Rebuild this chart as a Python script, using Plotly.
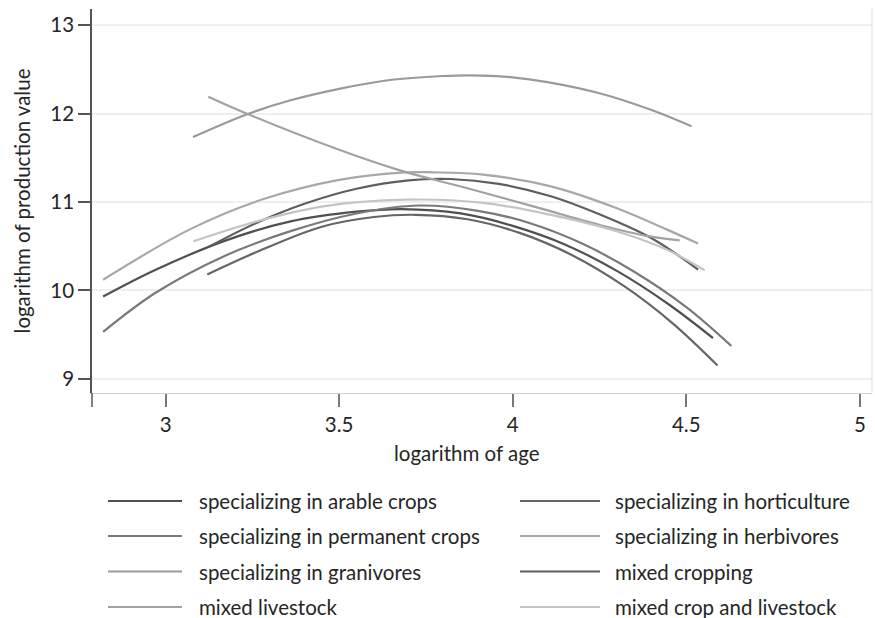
import plotly.graph_objects as go

# Fitted production-value curves by farm type (x: log of age, y: log of production value)
series_names = [
    "specializing in arable crops",
    "specializing in horticulture",
    "specializing in permanent crops",
    "specializing in herbivores",
    "specializing in granivores",
    "mixed cropping",
    "mixed livestock",
    "mixed crop and livestock",
]
series_colors = ["#505050", "#666666", "#7a7a7a", "#a8a8a8",
                 "#9a9a9a", "#5e5e5e", "#a2a2a2", "#c4c4c4"]

x_arable = [2.82, 2.97, 3.17, 3.36, 3.55, 3.68, 3.85, 4.00, 4.15, 4.30, 4.45, 4.577]
y_arable = [9.93, 10.23, 10.56, 10.78, 10.89, 10.92, 10.87, 10.73, 10.52, 10.22, 9.84, 9.46]

x_horticulture = [3.12, 3.26, 3.45, 3.60, 3.72, 3.87, 4.02, 4.17, 4.32, 4.46, 4.59]
y_horticulture = [10.18, 10.43, 10.72, 10.83, 10.855, 10.805, 10.65, 10.40, 10.05, 9.63, 9.15]

x_permanent = [2.82, 2.97, 3.17, 3.36, 3.55, 3.73, 3.90, 4.05, 4.20, 4.35, 4.50, 4.63]
y_permanent = [9.53, 9.97, 10.39, 10.67, 10.87, 10.96, 10.90, 10.76, 10.53, 10.21, 9.81, 9.37]

x_herbivores = [2.82, 3.07, 3.28, 3.50, 3.69, 3.77, 3.915, 4.107, 4.30, 4.443, 4.534]
y_herbivores = [10.12, 10.69, 11.03, 11.25, 11.335, 11.335, 11.31, 11.18, 10.93, 10.69, 10.53]

x_granivores = [3.079, 3.233, 3.36, 3.50, 3.646, 3.80, 3.876, 4.00, 4.10, 4.25, 4.40, 4.515]
y_granivores = [11.734, 11.99, 12.15, 12.28, 12.38, 12.425, 12.433, 12.41, 12.356, 12.23, 12.04, 11.856]

x_mixed_cropping = [3.123, 3.26, 3.40, 3.55, 3.70, 3.82, 3.96, 4.11, 4.25, 4.40, 4.534]
y_mixed_cropping = [10.49, 10.76, 10.98, 11.15, 11.245, 11.26, 11.205, 11.065, 10.86, 10.59, 10.235]

x_mixed_livestock = [3.123, 3.233, 3.50, 3.675, 3.867, 4.059, 4.251, 4.395, 4.481]
y_mixed_livestock = [12.19, 12.00, 11.59, 11.357, 11.158, 10.95, 10.74, 10.61, 10.566]

x_crop_livestock = [3.08, 3.262, 3.454, 3.69, 3.915, 4.107, 4.299, 4.443, 4.553]
y_crop_livestock = [10.555, 10.78, 10.95, 11.026, 10.99, 10.856, 10.668, 10.461, 10.227]

series_x = [x_arable, x_horticulture, x_permanent, x_herbivores,
            x_granivores, x_mixed_cropping, x_mixed_livestock, x_crop_livestock]
series_y = [y_arable, y_horticulture, y_permanent, y_herbivores,
            y_granivores, y_mixed_cropping, y_mixed_livestock, y_crop_livestock]

x_ticks = [3, 3.5, 4, 4.5, 5]
x_tick_labels = ["3", "3.5", "4", "4.5", "5"]
y_ticks = [9, 10, 11, 12, 13]
y_tick_labels = ["9", "10", "11", "12", "13"]
x_title = "logarithm of age"
y_title = "logarithm of production value"

FONT = "Lato"
FS = 20.5
TEXT = "#262626"

W, H = 875, 618
ML, MR, MT, MB = 92, 3, 9, 225
PW, PH = W - ML - MR, H - MT - MB


def px_x(px):
    return (px - ML) / PW


def px_y(py):
    return (H - MB - py) / PH


fig = go.Figure()
for name, col, xs, ys in zip(series_names, series_colors, series_x, series_y):
    fig.add_trace(go.Scatter(
        x=xs, y=ys, mode="lines", name=name,
        line=dict(color=col, width=2.2, shape="spline", smoothing=1.0),
        showlegend=False, hoverinfo="skip",
    ))

shapes = [
    # y axis continues below the plot region
    dict(type="line", xref="paper", yref="paper", x0=0, x1=0,
         y0=0, y1=px_y(407), line=dict(color="#555555", width=1.5)),
    # right edge of plot region
    dict(type="line", xref="paper", yref="paper", x0=1, x1=1,
         y0=0, y1=1, line=dict(color="#dddddd", width=1)),
]

annotations = [
    dict(xref="paper", yref="paper", x=px_x(467), y=px_y(453),
         text=x_title, showarrow=False, xanchor="center", yanchor="middle",
         font=dict(family=FONT, size=FS, color=TEXT)),
]

# two-column key below the plot
row_y = [501, 536, 571.5, 607]
col_line = [(108, 182, 197), (520, 600, 613)]
for i, (name, col) in enumerate(zip(series_names, series_colors)):
    r, c = divmod(i, 2)
    lx0, lx1, tx = col_line[c]
    yy = px_y(row_y[r])
    shapes.append(dict(type="line", xref="paper", yref="paper",
                       x0=px_x(lx0), x1=px_x(lx1), y0=yy, y1=yy,
                       line=dict(color=col, width=2.2)))
    annotations.append(dict(xref="paper", yref="paper", x=px_x(tx), y=yy,
                            text=name, showarrow=False, xanchor="left",
                            yanchor="middle",
                            font=dict(family=FONT, size=FS, color=TEXT)))

fig.update_layout(
    width=W, height=H,
    margin=dict(l=ML, r=MR, t=MT, b=MB),
    paper_bgcolor="white", plot_bgcolor="white",
    font=dict(family=FONT, size=FS, color=TEXT),
    shapes=shapes, annotations=annotations,
    showlegend=False,
    xaxis=dict(
        range=[2.788, 5.035], tickvals=x_ticks, ticktext=x_tick_labels,
        showgrid=False, zeroline=False,
        showline=True, linecolor="#d2d2d2", linewidth=1,
        ticks="outside", ticklen=13, tickcolor="#777777", tickwidth=1.5,
        tickfont=dict(family=FONT, size=FS, color=TEXT),
    ),
    yaxis=dict(
        range=[8.839, 13.183], tickvals=y_ticks, ticktext=y_tick_labels,
        showgrid=True, gridcolor="#efefef", gridwidth=2,
        zeroline=False,
        showline=True, linecolor="#555555", linewidth=1.5,
        ticks="outside", ticklen=12, tickcolor="#555555", tickwidth=1.5,
        tickfont=dict(family=FONT, size=FS, color=TEXT),
        title=dict(text=y_title, standoff=14,
                   font=dict(family=FONT, size=FS, color=TEXT)),
    ),
)

fig.write_html("out.html")
